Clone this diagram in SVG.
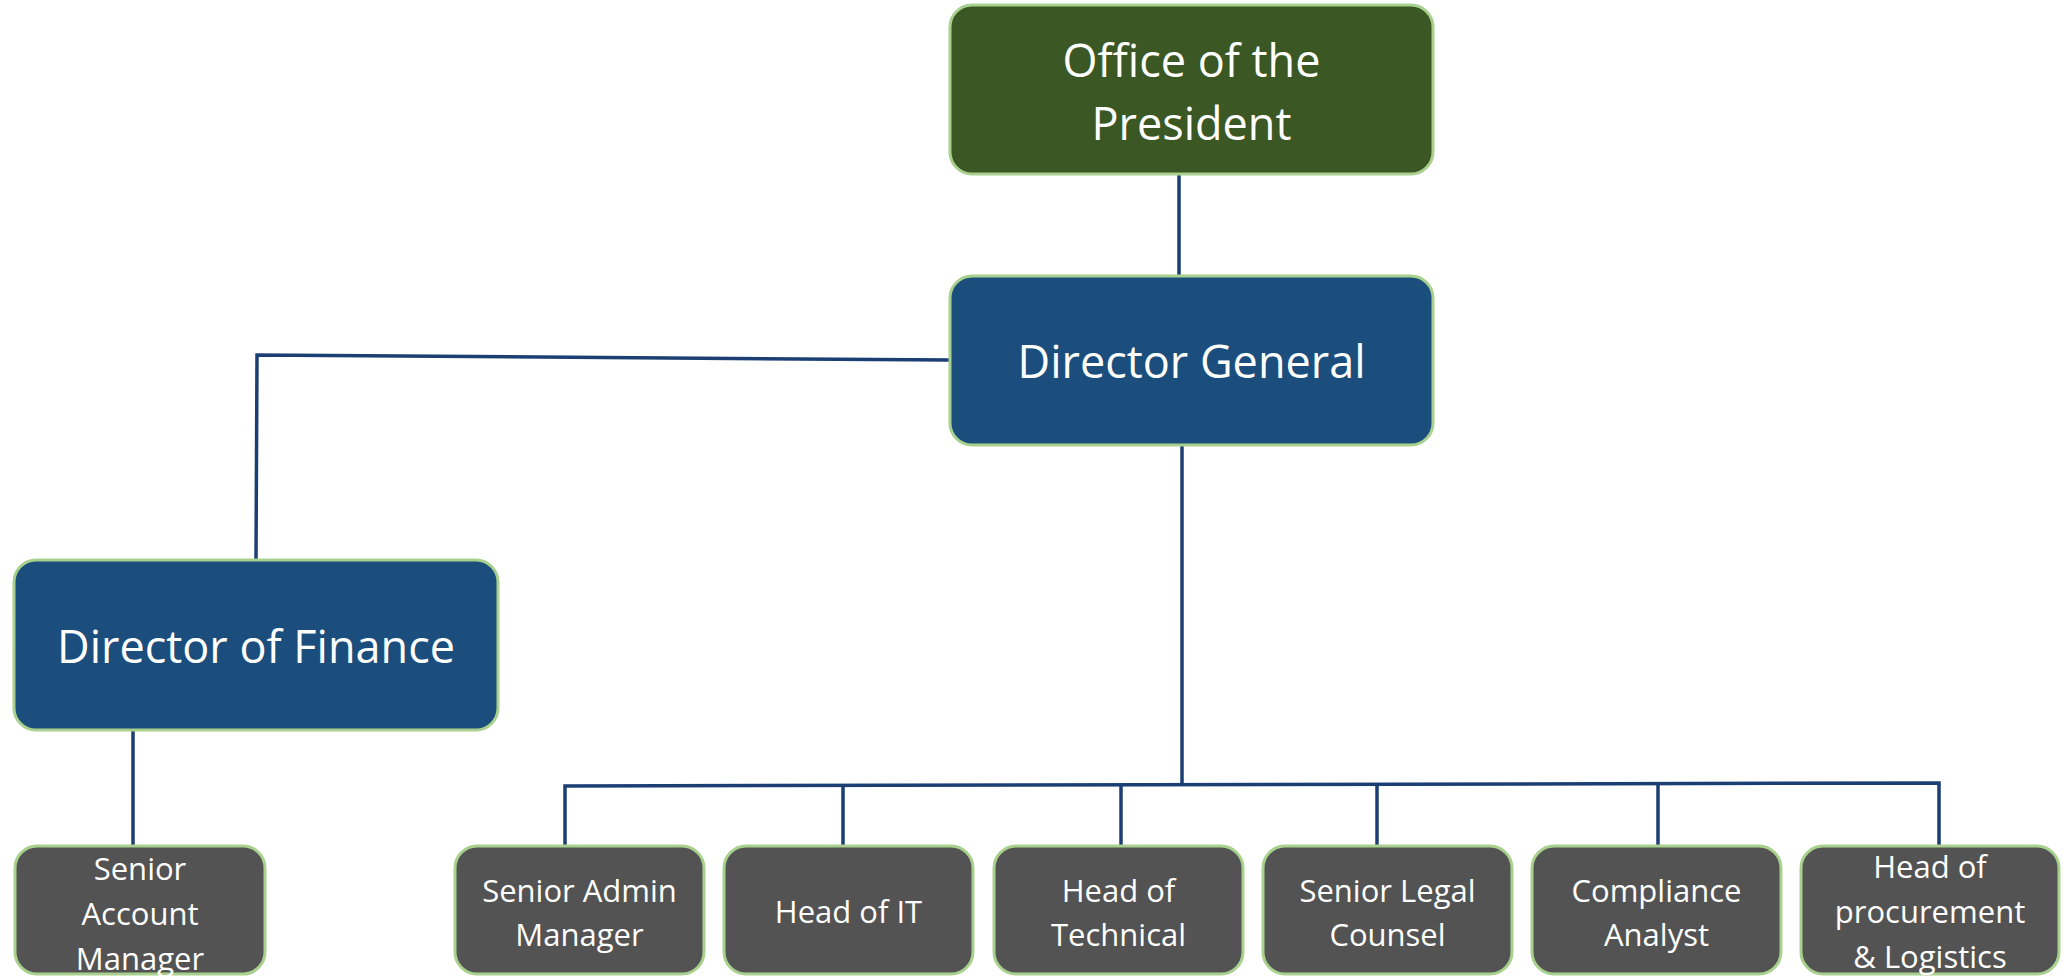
<svg xmlns="http://www.w3.org/2000/svg" width="2067" height="976" viewBox="0 0 2067 976">
  <style>
    .box { stroke: #a9d18e; stroke-width: 3; }
    .pres { fill: #3a5724; }
    .dir { fill: #1b4e7c; }
    .staff { fill: #535353; }
    .lbl { font-family: "Open Sans", "Noto Sans", sans-serif; fill: #ffffff; text-anchor: middle; }
    .big { font-size: 45px; }
    .small { font-size: 31px; }
    .link { fill: none; stroke: #1b3f73; stroke-width: 3.5; }
  </style>
  <rect width="2067" height="976" fill="#ffffff"/>

  <!-- reporting lines -->
  <g id="connectors">
    <line class="link" x1="1179" y1="174" x2="1179" y2="276"/>
    <polyline class="link" points="949,360 257,355 256,560"/>
    <line class="link" x1="133" y1="730" x2="133" y2="846"/>
    <line class="link" x1="1182" y1="445" x2="1182" y2="785"/>
    <polyline class="link" points="565,846 565,786 1939,783 1939,846"/>
    <line class="link" x1="843" y1="785" x2="843" y2="846"/>
    <line class="link" x1="1121" y1="785" x2="1121" y2="846"/>
    <line class="link" x1="1377" y1="784" x2="1377" y2="846"/>
    <line class="link" x1="1658" y1="784" x2="1658" y2="846"/>
  </g>

  <g id="office-of-the-president">
    <rect class="box pres" x="950" y="5" width="483" height="169" rx="22"/>
    <text class="lbl big" x="1191.5" y="77">Office of the</text>
    <text class="lbl big" x="1191.5" y="140">President</text>
  </g>

  <g id="director-general">
    <rect class="box dir" x="950" y="276" width="483" height="169" rx="22"/>
    <text class="lbl big" x="1191.5" y="378">Director General</text>
  </g>

  <g id="director-of-finance">
    <rect class="box dir" x="14" y="560" width="484" height="170" rx="22"/>
    <text class="lbl big" x="256" y="663">Director of Finance</text>
  </g>

  <g id="senior-account-manager">
    <rect class="box staff" x="15" y="846" width="250" height="128" rx="22"/>
    <text class="lbl small" x="140" y="880">Senior</text>
    <text class="lbl small" x="140" y="925">Account</text>
    <text class="lbl small" x="140" y="970">Manager</text>
  </g>

  <g id="senior-admin-manager">
    <rect class="box staff" x="455" y="846" width="249" height="128" rx="22"/>
    <text class="lbl small" x="579.5" y="902">Senior Admin</text>
    <text class="lbl small" x="579.5" y="946">Manager</text>
  </g>

  <g id="head-of-it">
    <rect class="box staff" x="724" y="846" width="249" height="128" rx="22"/>
    <text class="lbl small" x="848.5" y="923">Head of IT</text>
  </g>

  <g id="head-of-technical">
    <rect class="box staff" x="994" y="846" width="249" height="128" rx="22"/>
    <text class="lbl small" x="1118.5" y="902">Head of</text>
    <text class="lbl small" x="1118.5" y="946">Technical</text>
  </g>

  <g id="senior-legal-counsel">
    <rect class="box staff" x="1263" y="846" width="249" height="128" rx="22"/>
    <text class="lbl small" x="1387.5" y="902">Senior Legal</text>
    <text class="lbl small" x="1387.5" y="946">Counsel</text>
  </g>

  <g id="compliance-analyst">
    <rect class="box staff" x="1532" y="846" width="249" height="128" rx="22"/>
    <text class="lbl small" x="1656.5" y="902">Compliance</text>
    <text class="lbl small" x="1656.5" y="946">Analyst</text>
  </g>

  <g id="head-of-procurement-logistics">
    <rect class="box staff" x="1801" y="846" width="258" height="128" rx="22"/>
    <text class="lbl small" x="1930" y="878">Head of</text>
    <text class="lbl small" x="1930" y="923">procurement</text>
    <text class="lbl small" x="1930" y="968">&amp; Logistics</text>
  </g>
</svg>
